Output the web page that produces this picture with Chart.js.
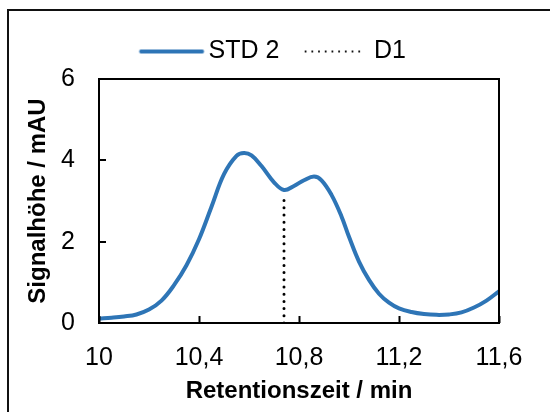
<!DOCTYPE html>
<html>
<head>
<meta charset="utf-8">
<script src="https://cdn.jsdelivr.net/npm/chart.js@4"></script>
<style>
  html, body { margin: 0; padding: 0; background: #fff; overflow: hidden; }
  #wrap { position: relative; width: 550px; height: 412px; }
  #frame { position: absolute; left: 7px; top: 9px; width: 600px; height: 500px;
           border-left: 2px solid #111; border-top: 2px solid #111; pointer-events: none; }
  canvas { position: absolute; left: 0; top: 0; }
</style>
</head>
<body>
<div id="wrap">
  <canvas id="c" width="550" height="412"></canvas>
  <div id="frame"></div>
</div>
<script>
// Chromatogram STD 2 (retention time in min, signal in mAU)
const retentionTimes = [10.00, 10.05, 10.10, 10.15, 10.20, 10.25, 10.30, 10.35, 10.40, 10.45,
  10.50, 10.55, 10.58, 10.61, 10.65, 10.70, 10.74, 10.78, 10.82, 10.86, 10.89, 10.93, 10.97,
  11.00, 11.04, 11.08, 11.12, 11.16, 11.20, 11.25, 11.30, 11.35, 11.40, 11.45, 11.50, 11.55, 11.60];
const signalSTD2 = [0.11, 0.13, 0.16, 0.21, 0.33, 0.55, 0.93, 1.42, 2.06, 2.86,
  3.66, 4.11, 4.18, 4.12, 3.86, 3.46, 3.27, 3.37, 3.51, 3.6, 3.51, 3.15, 2.62,
  2.12, 1.51, 1.06, 0.72, 0.5, 0.36, 0.27, 0.22, 0.2, 0.21, 0.26, 0.38, 0.55, 0.78];

// Separation marker D1 (valley between the two peaks)
const d1Time = 10.74;
const d1Signal = [0, 3.12];

const xTicks = [10, 10.4, 10.8, 11.2, 11.6];
const yTicks = [0, 2, 4, 6];

const FONT = "'Liberation Sans', Arial, sans-serif";

// Tick marks pointing into the plot area plus a closed frame around it
const innerFrame = {
  id: 'innerFrame',
  afterDatasetsDraw(chart) {
    const { ctx, chartArea: a, scales } = chart;
    ctx.save();
    ctx.strokeStyle = '#000';
    ctx.lineWidth = 2;
    ctx.beginPath();
    xTicks.forEach(v => {
      const px = Math.round(scales.x.getPixelForValue(v)) + 0.5;
      ctx.moveTo(px, a.bottom);
      ctx.lineTo(px, a.bottom - 7);
    });
    yTicks.forEach(v => {
      const py = Math.round(scales.y.getPixelForValue(v));
      ctx.moveTo(a.left, py);
      ctx.lineTo(a.left + 7, py);
    });
    ctx.stroke();
    ctx.strokeRect(a.left, a.top, a.right - a.left, a.bottom - a.top);
    ctx.restore();
  }
};

// Center the legend over the whole figure rather than the left part only
const legendShift = {
  id: 'legendShift',
  afterLayout(chart) {
    const lg = chart.legend;
    if (lg) { lg.left += 23; lg.right += 23; lg.top -= 5; lg.bottom -= 5; }
  }
};

// Legend samples: a line sample that runs close to its label
const BOX_W = 57;
function legendSample(color, length, width, dash) {
  const W = 200, H = 12;
  const cv = document.createElement('canvas');
  cv.width = W; cv.height = H;
  const c = cv.getContext('2d');
  const x0 = W / 2 - BOX_W / 2;
  c.strokeStyle = color;
  c.lineWidth = width;
  c.lineCap = 'round';
  c.setLineDash(dash);
  c.beginPath();
  c.moveTo(x0 + width / 2, H / 2);
  c.lineTo(x0 + length - width / 2, H / 2);
  c.stroke();
  return cv;
}
const legendSamples = {
  'STD 2': legendSample('#2E75B6', 65, 3.8, []),
  'D1': legendSample('#000', 62, 2.2, [0, 6.7])
};

new Chart(document.getElementById('c'), {
  type: 'line',
  data: {
    datasets: [
      {
        label: 'STD 2',
        data: retentionTimes.map((t, i) => ({ x: t, y: signalSTD2[i] })),
        borderColor: '#2E75B6',
        borderWidth: 4,
        pointRadius: 0,
        tension: 0.4,
        borderCapStyle: 'round',
        fill: false
      },
      {
        label: 'D1',
        data: d1Signal.map(s => ({ x: d1Time, y: s })),
        borderColor: '#000',
        borderWidth: 3,
        borderDash: [0, 7.2],
        borderCapStyle: 'round',
        pointRadius: 0,
        fill: false
      }
    ]
  },
  options: {
    responsive: false,
    animation: false,
    events: [],
    layout: { padding: { left: 0, right: 51, top: 19, bottom: 0 } },
    plugins: {
      tooltip: { enabled: false },
      legend: {
        position: 'top',
        labels: {
          usePointStyle: true,
          pointStyleWidth: BOX_W,
          boxHeight: 25,
          padding: 25,
          color: '#000',
          font: { family: FONT, size: 25 },
          generateLabels: chart => Chart.defaults.plugins.legend.labels.generateLabels(chart).map(item =>
            Object.assign(item, { pointStyle: legendSamples[item.text] }))
        }
      }
    },
    scales: {
      x: {
        type: 'linear',
        min: 10,
        max: 11.6,
        afterBuildTicks: s => { s.ticks = xTicks.map(v => ({ value: v })); },
        afterFit: s => { s.height = 89; },
        grid: { display: false, drawTicks: false },
        border: { display: false },
        ticks: {
          padding: 20,
          color: '#000',
          font: { family: FONT, size: 25 },
          callback: v => String(Math.round(v * 10) / 10).replace('.', ',')
        },
        title: {
          display: true,
          text: 'Retentionszeit / min',
          color: '#000',
          font: { family: FONT, size: 24, weight: 'bold' },
          padding: { top: 0, bottom: 6 }
        }
      },
      y: {
        min: 0,
        max: 6,
        afterBuildTicks: s => { s.ticks = yTicks.map(v => ({ value: v })); },
        afterFit: s => { s.width = 99; },
        grid: { display: false, drawTicks: false },
        border: { display: false },
        ticks: {
          padding: 24,
          color: '#000',
          font: { family: FONT, size: 25 }
        },
        title: {
          display: true,
          text: 'Signalhöhe / mAU',
          color: '#000',
          font: { family: FONT, size: 24, weight: 'bold' },
          padding: { top: 24, bottom: 0 }
        }
      }
    }
  },
  plugins: [innerFrame, legendShift]
});
</script>
</body>
</html>
